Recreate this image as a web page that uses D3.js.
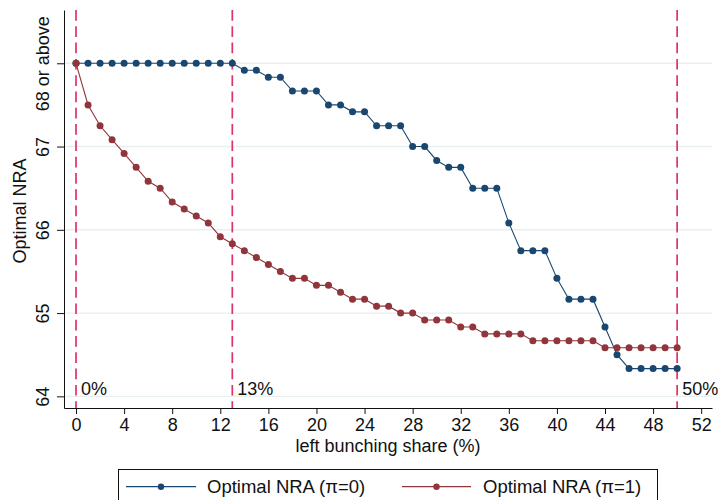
<!DOCTYPE html>
<html>
<head>
<meta charset="utf-8">
<script src="https://cdn.jsdelivr.net/npm/d3@7"></script>
<style>
  html, body { margin: 0; padding: 0; background: #fff; }
  svg { display: block; font-family: "Liberation Sans", Arial, sans-serif; }
</style>
</head>
<body>
<svg id="chart" width="718" height="500"></svg>
<script>
// Left bunching share (%)
const shares = [0,1,2,3,4,5,6,7,8,9,10,11,12,13,14,15,16,17,18,19,20,21,22,23,24,25,
  26,27,28,29,30,31,32,33,34,35,36,37,38,39,40,41,42,43,44,45,46,47,48,49,50];

// Optimal NRA, pi = 0
const nraPi0 = [68,68,68,68,68,68,68,68,68,68,68,68,68,68,
  67.917,67.917,67.833,67.833,67.667,67.667,67.667,67.5,67.5,67.417,67.417,
  67.25,67.25,67.25,67.0,67.0,66.833,66.75,66.75,66.5,66.5,66.5,66.083,
  65.75,65.75,65.75,65.417,65.167,65.167,65.167,64.833,64.5,
  64.333,64.333,64.333,64.333,64.333];

// Optimal NRA, pi = 1
const nraPi1 = [68,67.5,67.25,67.083,66.917,66.75,66.583,66.5,66.333,66.25,66.167,
  66.083,65.917,65.833,65.75,65.667,65.583,65.5,65.417,65.417,65.333,65.333,
  65.25,65.167,65.167,65.083,65.083,65.0,65.0,64.917,64.917,64.917,64.833,64.833,
  64.75,64.75,64.75,64.75,64.667,64.667,64.667,64.667,64.667,64.667,
  64.583,64.583,64.583,64.583,64.583,64.583,64.583];

const xTicks = [0,4,8,12,16,20,24,28,32,36,40,44,48,52];
const yTicks = [64,65,66,67,68];
const yTickLabels = ["64","65","66","67","68 or above"];
const refLines = [0,13,50];
const refLabels = ["0%","13%","50%"];
const seriesNames = ["Optimal NRA (\u03c0=0)", "Optimal NRA (\u03c0=1)"];
const seriesColors = ["#1a476f", "#90353b"];

const svg = d3.select("#chart");
const plot = { left: 64, right: 712, top: 10, bottom: 408 };

const x = d3.scaleLinear().domain([-1, 52.9]).range([plot.left, plot.right]);
const y = d3.scaleLinear().domain([63.86, 68.64]).range([plot.bottom, plot.top]);

svg.append("rect").attr("width", 718).attr("height", 500).attr("fill", "#fff");

// horizontal grid
svg.append("g").selectAll("line").data(yTicks).join("line")
  .attr("x1", plot.left).attr("x2", plot.right)
  .attr("y1", d => y(d)).attr("y2", d => y(d))
  .attr("stroke", "#e7eff1").attr("stroke-width", 1.4);

// reference lines
const refColor = "#dc3464";
svg.append("g").selectAll("line").data(refLines).join("line")
  .attr("x1", d => x(d)).attr("x2", d => x(d))
  .attr("y1", plot.top).attr("y2", plot.bottom)
  .attr("stroke", refColor).attr("stroke-width", 1.7)
  .attr("stroke-dasharray", "10.7,5.6");

svg.append("g").selectAll("text").data(refLines).join("text")
  .attr("x", d => x(d) + 5).attr("y", 395)
  .attr("font-size", 18).attr("fill", "#111")
  .text((d, i) => refLabels[i]);

// axes
const xAxis = d3.axisBottom(x).tickValues(xTicks).tickSizeInner(6).tickSizeOuter(0).tickPadding(4);
const gx = svg.append("g").attr("transform", `translate(0,${plot.bottom})`).call(xAxis);
gx.selectAll("text").attr("font-size", 18).attr("fill", "#111")
  .attr("font-family", "'Liberation Sans', Arial, sans-serif");
gx.selectAll("line, path").attr("stroke", "#111");

const yAxis = d3.axisLeft(y).tickValues(yTicks).tickSizeInner(7).tickSizeOuter(0)
  .tickFormat((d, i) => yTickLabels[i]);
const gy = svg.append("g").attr("transform", `translate(${plot.left},0)`).call(yAxis);
gy.selectAll("line, path").attr("stroke", "#111");
gy.selectAll("text")
  .attr("font-size", 18).attr("fill", "#111")
  .attr("font-family", "'Liberation Sans', Arial, sans-serif")
  .attr("x", null).attr("dy", null)
  .attr("text-anchor", "middle")
  .attr("transform", `translate(${48.5 - plot.left},0) rotate(-90)`);

// axis titles
svg.append("text")
  .attr("x", (plot.left + plot.right) / 2).attr("y", 452)
  .attr("text-anchor", "middle").attr("font-size", 18).attr("fill", "#111")
  .text("left bunching share (%)");
svg.append("text")
  .attr("transform", "translate(26,211) rotate(-90)")
  .attr("text-anchor", "middle").attr("font-size", 18).attr("fill", "#111")
  .text("Optimal NRA");

// series
const series = [nraPi0, nraPi1];
const line = d3.line().x(d => x(d[0])).y(d => y(d[1]));
series.forEach((vals, si) => {
  const pts = shares.map((s, i) => [s, vals[i]]);
  const g = svg.append("g");
  g.append("path").datum(pts).attr("d", line)
    .attr("fill", "none").attr("stroke", seriesColors[si]).attr("stroke-width", 1.1);
  g.selectAll("circle").data(pts).join("circle")
    .attr("cx", d => x(d[0])).attr("cy", d => y(d[1])).attr("r", 3.5)
    .attr("fill", seriesColors[si]);
});

// legend
const legend = svg.append("g");
legend.append("rect")
  .attr("x", 118.5).attr("y", 469.5).attr("width", 539).attr("height", 45)
  .attr("fill", "#fff").attr("stroke", "#111").attr("stroke-width", 1);
const legendItems = [
  { x1: 126, x2: 196, text: 207 },
  { x1: 402, x2: 471, text: 483 }
];
legendItems.forEach((it, i) => {
  legend.append("line").attr("x1", it.x1).attr("x2", it.x2)
    .attr("y1", 486.7).attr("y2", 486.7)
    .attr("stroke", seriesColors[i]).attr("stroke-width", 1.2);
  legend.append("circle").attr("cx", (it.x1 + it.x2) / 2).attr("cy", 486.7).attr("r", 3.2)
    .attr("fill", seriesColors[i]);
  legend.append("text").attr("x", it.text).attr("y", 493.3)
    .attr("font-size", 18.5).attr("fill", "#111").text(seriesNames[i]);
});
</script>
</body>
</html>
